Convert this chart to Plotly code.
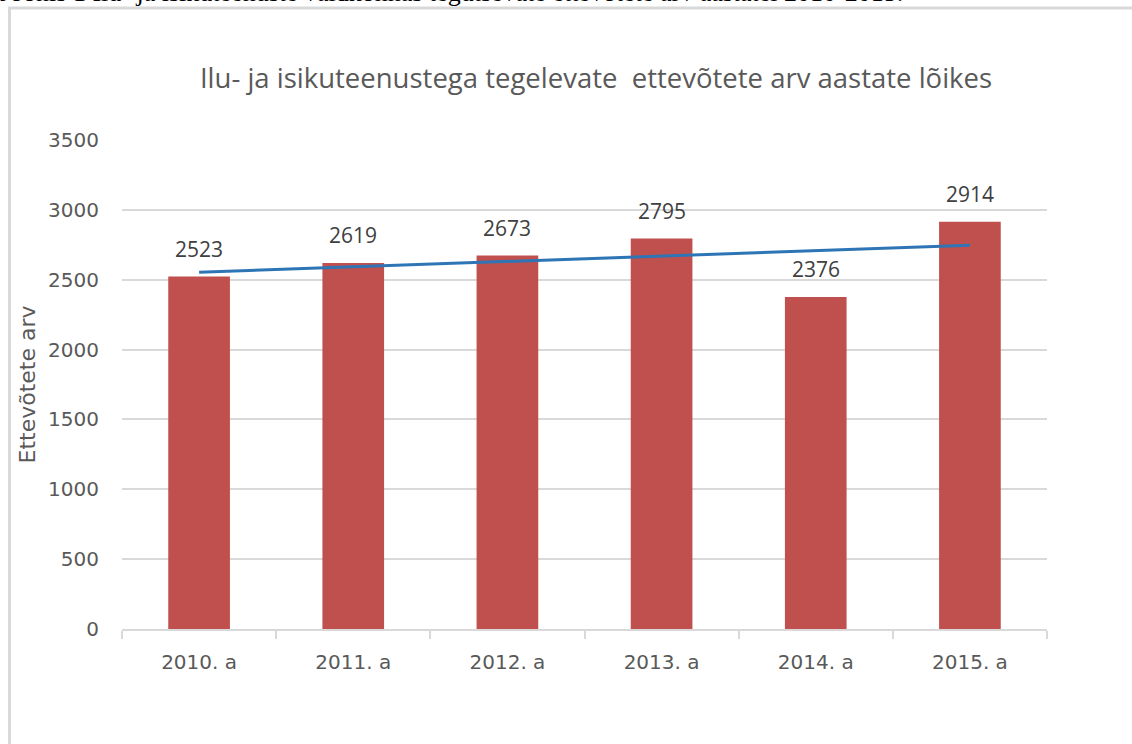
import numpy as np
import plotly.graph_objects as go

categories = ["2010. a", "2011. a", "2012. a", "2013. a", "2014. a", "2015. a"]
values = [2523, 2619, 2673, 2795, 2376, 2914]
y_ticks = [0, 500, 1000, 1500, 2000, 2500, 3000, 3500]

title_text = "Ilu- ja isikuteenustega tegelevate\u00a0 ettevõtete arv aastate lõikes"
y_title = "Ettevõtete arv"
caption = "Joonis 1 Ilu- ja isikuteenuste valdkonnas tegutsevate ettevõtete arv aastatel 2010-2015."

# linear trend line (as in the original spreadsheet chart)
xi = np.arange(len(values))
slope, intercept = np.polyfit(xi, values, 1)
trend = list(slope * xi + intercept)

W, H = 1132, 744
L, R, T, B = 122, 85, 140, 115
pw, ph = W - L - R, H - T - B

def px(xp):
    return (xp - L) / pw

def py(yp):
    return (H - B - yp) / ph

fig = go.Figure()
fig.add_trace(go.Bar(
    x=categories, y=values, width=0.4,
    marker=dict(color="#C0504D", line=dict(width=0)),
    showlegend=False, hoverinfo="skip",
))
fig.add_trace(go.Scatter(
    x=categories, y=trend, mode="lines",
    line=dict(color="#2E75B6", width=3),
    showlegend=False, hoverinfo="skip",
))

annotations = [dict(x=c, y=v, xref="x", yref="y", text=str(v), showarrow=False,
                    xanchor="center", yanchor="bottom", yshift=12,
                    font=dict(family="Open Sans", size=21, color="#404040"))
               for c, v in zip(categories, values)]
annotations.append(dict(text=caption, xref="paper", yref="paper", x=px(-2), xanchor="left",
                        y=py(9.5), yanchor="bottom", showarrow=False,
                        font=dict(family="Liberation Serif", size=26, color="black")))

fig.update_layout(
    width=W, height=H,
    margin=dict(l=L, r=R, t=T, b=B, pad=0),
    paper_bgcolor="white", plot_bgcolor="white",
    title=dict(text=title_text, x=px(596), xanchor="center", xref="paper",
               y=1 - 78 / H, yanchor="middle", yref="container",
               font=dict(family="Open Sans", size=27.5, color="#595959")),
    xaxis=dict(
        type="category", showgrid=False, showline=True, linecolor="#D9D9D9", linewidth=2,
        ticks="outside", tickson="boundaries", ticklen=8, tickcolor="#D9D9D9", tickwidth=2,
        tickfont=dict(family="DejaVu Sans", size=20, color="#595959"),
        ticklabelstandoff=14,
    ),
    yaxis=dict(
        range=[0, 3500], tickvals=y_ticks, showgrid=True, gridcolor="#D9D9D9", gridwidth=2,
        zeroline=False, showline=False, ticks="",
        tickfont=dict(family="DejaVu Sans", size=20, color="#595959"),
        ticklabelstandoff=22,
        title=dict(text=y_title, standoff=6,
                   font=dict(family="DejaVu Sans", size=22, color="#595959")),
    ),
    shapes=[dict(type="rect", xref="paper", yref="paper",
                 x0=px(9.5), x1=px(W + 20), y0=py(H + 20), y1=py(8),
                 line=dict(color="#D9D9D9", width=3), fillcolor="rgba(0,0,0,0)", layer="below")],
    annotations=annotations,
)

fig.write_html("out.html", config={"displayModeBar": False},
               post_script="document.body.style.margin='0';")
